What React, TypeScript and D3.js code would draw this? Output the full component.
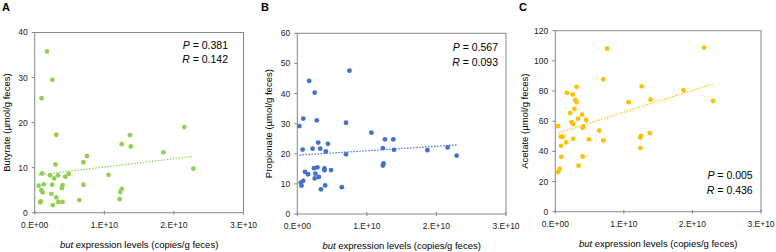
import React from 'react';
import * as d3 from 'd3';

// x values are in units of 1e10 copies/g feces
const butyrateX = [0.177, 0.254, 0.10, 2.15, 0.31, 1.37, 1.25, 1.38, 1.85, 0.75, 0.70, 0.30, 2.28, 0.105, 0.22, 0.335, 0.49, 0.44, 0.28, 1.06, 0.057, 0.13, 0.25, 0.40, 0.39, 0.70, 0.096, 0.115, 0.24, 1.25, 1.23, 1.22, 0.31, 0.64, 0.086, 0.081, 0.34, 0.40, 0.26];
const butyrateY = [35.8, 29.5, 25.4, 19.0, 17.3, 17.2, 15.2, 14.7, 13.4, 12.6, 11.2, 10.7, 9.8, 8.7, 8.3, 8.3, 8.6, 8.0, 7.6, 8.4, 6.0, 6.3, 6.2, 6.1, 5.4, 6.2, 5.0, 4.5, 4.2, 5.3, 4.6, 3.0, 3.4, 2.8, 2.5, 2.3, 2.4, 2.4, 1.7];

const propionateX = [0.75, 0.17, 0.25, 0.086, 0.28, 0.70, 0.03, 1.065, 1.26, 1.38, 0.30, 0.44, 0.077, 0.22, 0.33, 0.41, 0.70, 1.23, 1.39, 1.87, 2.16, 2.29, 1.24, 1.23, 0.11, 0.155, 0.24, 0.29, 0.26, 0.39, 0.39, 0.485, 0.25, 0.31, 0.05, 0.086, 0.06, 0.34, 0.40, 0.64];
const propionateY = [47.6, 44.2, 40.3, 31.7, 31.1, 30.3, 29.2, 27.0, 24.8, 24.8, 23.7, 23.3, 21.4, 21.7, 21.7, 20.8, 19.8, 21.9, 21.3, 21.2, 22.1, 19.4, 16.8, 16.1, 14.0, 13.2, 15.2, 15.5, 13.4, 15.1, 14.5, 14.6, 11.8, 12.3, 10.4, 11.0, 9.4, 8.2, 9.5, 8.9];

const acetateX = [0.756, 2.17, 0.70, 1.26, 0.31, 0.17, 0.255, 1.87, 0.29, 0.31, 1.39, 1.07, 2.30, 0.28, 0.215, 0.39, 0.33, 0.45, 0.24, 0.26, 0.04, 0.41, 0.40, 0.64, 0.08, 0.11, 0.16, 0.26, 0.49, 0.70, 0.083, 0.088, 0.40, 0.34, 0.063, 0.04, 1.25, 1.24, 1.24, 1.38];
const acetateY = [108.1, 108.8, 87.7, 83.1, 82.8, 78.8, 77.7, 80.6, 74.2, 72.7, 74.3, 72.6, 73.4, 68.1, 65.4, 64.3, 61.7, 60.8, 59.3, 58.0, 56.7, 56.5, 55.6, 53.7, 49.7, 49.7, 45.9, 48.3, 47.9, 47.2, 43.7, 36.4, 36.6, 30.5, 28.3, 26.3, 50.3, 49.2, 42.2, 52.1];

// linear fit: [intercept, slope per 1e10]
const butyrateFit = [8.3, 1.84];
const propionateFit = [19.5, 1.5];
const acetateFit = [51.6, 14.4];

const xTicks = [0, 1, 2, 3];
const xTickLabels = ['0.E+00', '1.E+10', '2.E+10', '3.E+10'];
const butyrateTicks = [0, 10, 20, 30, 40];
const propionateTicks = [0, 10, 20, 30, 40, 50, 60];
const acetateTicks = [0, 20, 40, 60, 80, 100, 120];

const FONT = '"Liberation Sans", Arial, sans-serif';
const FRAME = '#868686';

type PanelProps = {
  letter: string;
  letterX: number;
  xs: number[];
  ys: number[];
  fit: number[];
  yTicks: number[];
  yLabel: string;
  color: string;
  left: number;
  right: number;
  top: number;
  bottom: number;
  pText: string;
  rText: string;
  statX: number;
  statY: number;
  yTitleX: number;
};

const Panel = (p: PanelProps) => {
  const x = d3.scaleLinear().domain([0, 3]).range([p.left, p.right]);
  const yMax = p.yTicks[p.yTicks.length - 1];
  const y = d3.scaleLinear().domain([0, yMax]).range([p.bottom, p.top]);
  const x0 = d3.min(p.xs) as number;
  const x1 = d3.max(p.xs) as number;
  const line = d3.line<number>().x(d => x(d)).y(d => y(p.fit[0] + p.fit[1] * d));
  const midY = (p.top + p.bottom) / 2;
  const midX = (p.left + p.right) / 2;

  return (
    <g fontFamily={FONT}>
      <text x={p.letterX} y={11} fontSize={11} fontWeight="bold" fill="#000">{p.letter}</text>
      <rect x={p.left} y={p.top} width={p.right - p.left} height={p.bottom - p.top}
        fill="none" stroke={FRAME} strokeWidth={1} />
      {p.yTicks.map(t => (
        <g key={t}>
          <line x1={p.left - 3} x2={p.left} y1={y(t)} y2={y(t)} stroke={FRAME} />
          <text x={p.left - 7} y={y(t)} dy="0.35em" textAnchor="end" fontSize={8.5} fill="#222">{t}</text>
        </g>
      ))}
      {xTicks.map((t, i) => (
        <g key={t}>
          <line x1={x(t)} x2={x(t)} y1={p.bottom - 2} y2={p.bottom + 2} stroke={FRAME} />
          <text x={x(t)} y={p.bottom + 15} textAnchor="middle" fontSize={8.5} fill="#222">{xTickLabels[i]}</text>
        </g>
      ))}
      <path d={line([x0, x1]) as string} fill="none" stroke={p.color} strokeWidth={1.2} strokeDasharray="1.5,1.5" />
      {p.xs.map((v, i) => (
        <circle key={i} cx={x(v)} cy={y(p.ys[i])} r={2.4} fill={p.color} />
      ))}
      <text x={p.statX} y={p.statY} textAnchor="end" fontSize={10.5} fill="#000">
        <tspan fontStyle="italic">P</tspan> = {p.pText}
      </text>
      <text x={p.statX} y={p.statY + 14.5} textAnchor="end" fontSize={10.5} fill="#000">
        <tspan fontStyle="italic">R</tspan> = {p.rText}
      </text>
      <text transform={`translate(${p.yTitleX},${midY}) rotate(-90)`} textAnchor="middle" fontSize={9.5} fill="#000">
        {p.yLabel}
      </text>
      <text x={midX} y={p.bottom + 35} textAnchor="middle" fontSize={9.5} fill="#000">
        <tspan fontStyle="italic">but</tspan> expression levels (copies/g feces)
      </text>
    </g>
  );
};

const App = () => (
  <svg width={776} height={252} style={{ position: 'absolute', left: 0, top: 0, background: '#fff' }}>
    <Panel letter="A" letterX={2} xs={butyrateX} ys={butyrateY} fit={butyrateFit} yTicks={butyrateTicks}
      yLabel="Butyrate (µmol/g feces)" color="#92d050"
      left={34.7} right={243.5} top={32.5} bottom={212.7}
      pText="0.381" rText="0.142" statX={228} statY={48.7} yTitleX={9.5} />
    <Panel letter="B" letterX={261} xs={propionateX} ys={propionateY} fit={propionateFit} yTicks={propionateTicks}
      yLabel="Propionate (µmol/g feces)" color="#4472c4"
      left={297.3} right={506} top={33.3} bottom={214}
      pText="0.567" rText="0.093" statX={498} statY={51} yTitleX={272} />
    <Panel letter="C" letterX={519} xs={acetateX} ys={acetateY} fit={acetateFit} yTicks={acetateTicks}
      yLabel="Acetate (µmol/g feces)" color="#ffc000"
      left={555.3} right={761} top={30.7} bottom={211.7}
      pText="0.005" rText="0.436" statX={752.7} statY={179.3} yTitleX={528} />
  </svg>
);

export default App;
